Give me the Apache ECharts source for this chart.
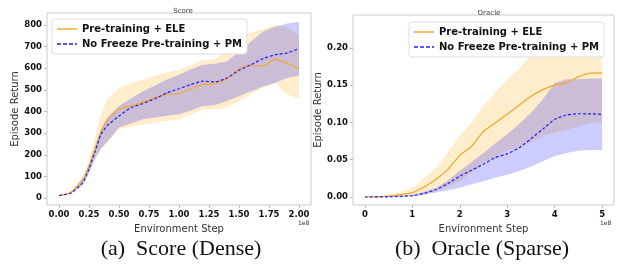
<!DOCTYPE html>
<html>
<head>
<meta charset="utf-8">
<script src="https://cdn.jsdelivr.net/npm/echarts@6/dist/echarts.min.js"></script>
<style>
  html, body { margin: 0; padding: 0; background: #fff; }
  #main { width: 623px; height: 269px; }
</style>
</head>
<body>
<div id="main"></div>
<script>
// Score (Dense), x in units of 1e8 steps
var scoreSteps = [0, 0.1, 0.2, 0.25, 0.3, 0.35, 0.4, 0.5, 0.6, 0.7, 0.8, 0.9, 1.0, 1.1, 1.2, 1.3, 1.4, 1.5, 1.6, 1.7, 1.8, 1.9, 2.0];
var scoreEleMean = [12, 27, 89, 150, 226, 303, 356, 410, 425, 443, 463, 479, 483, 505, 525, 528, 550, 596, 616, 609, 642, 624, 596];
var scoreEleLow = [10, 22, 70, 120, 180, 225, 260, 318, 330, 340, 349, 357, 364, 385, 410, 410, 417, 448, 480, 509, 532, 480, 459];
var scoreEleHigh = [14, 30, 100, 170, 285, 390, 455, 509, 530, 547, 565, 581, 593, 615, 639, 640, 690, 750, 765, 780, 800, 790, 750];
var scorePmMean = [12, 23, 73, 135, 214, 295, 333, 379, 417, 437, 459, 486, 505, 525, 540, 537, 555, 590, 616, 644, 662, 670, 691];
var scorePmLow = [10, 20, 60, 115, 180, 230, 257, 326, 345, 364, 372, 380, 387, 405, 425, 430, 448, 470, 494, 515, 532, 555, 566];
var scorePmHigh = [14, 26, 85, 150, 240, 320, 370, 425, 460, 494, 520, 548, 570, 595, 616, 620, 632, 675, 723, 769, 792, 807, 815];

// Oracle (Sparse)
var oracleSteps = [0, 0.5, 1.0, 1.25, 1.5, 1.75, 2.0, 2.25, 2.5, 2.75, 3.0, 3.25, 3.5, 3.75, 4.0, 4.25, 4.5, 4.75, 5.0];
var oracleEleMean = [0, 0.0013, 0.0058, 0.0134, 0.0237, 0.037, 0.0558, 0.068, 0.088, 0.0996, 0.111, 0.123, 0.135, 0.144, 0.150, 0.153, 0.161, 0.166, 0.1665];
var oracleEleLow = [0, 0.0008, 0.001, 0.004, 0.008, 0.014, 0.021, 0.033, 0.046, 0.055, 0.062, 0.068, 0.073, 0.082, 0.086, 0.090, 0.095, 0.0996, 0.100];
var oracleEleHigh = [0, 0.002, 0.0125, 0.025, 0.039, 0.06, 0.082, 0.10, 0.122, 0.14, 0.158, 0.172, 0.189, 0.202, 0.216, 0.222, 0.227, 0.230, 0.231];
var oraclePmMean = [0, 0.0003, 0.0018, 0.005, 0.010, 0.018, 0.028, 0.036, 0.044, 0.053, 0.058, 0.066, 0.078, 0.091, 0.104, 0.110, 0.1116, 0.1115, 0.1107];
var oraclePmLow = [0, 0.0001, 0.001, 0.003, 0.006, 0.009, 0.0125, 0.017, 0.021, 0.026, 0.030, 0.035, 0.041, 0.048, 0.055, 0.059, 0.062, 0.063, 0.063];
var oraclePmHigh = [0, 0.0006, 0.003, 0.007, 0.0125, 0.022, 0.035, 0.047, 0.059, 0.072, 0.084, 0.098, 0.113, 0.131, 0.153, 0.158, 0.158, 0.159, 0.159];

// tick labels
var scoreXTicks = [0, 0.25, 0.5, 0.75, 1.0, 1.25, 1.5, 1.75, 2.0];
var scoreYTicks = [0, 100, 200, 300, 400, 500, 600, 700, 800];
var oracleXTicks = [0, 1, 2, 3, 4, 5];
var oracleYTicks = [0, 0.05, 0.1, 0.15, 0.2];

var nameEle = 'Pre-training + ELE';
var namePm = 'No Freeze Pre-training + PM';
var orange = '#f5a52a';
var blue = '#1f1ff0';

function pairs(xs, ys) {
  return xs.map(function (x, i) { return [x, ys[i]]; });
}

// shaded band: one polygon drawn from all rows [x, low, high]
function band(idx, xs, lo, hi, color) {
  return {
    type: 'custom', coordinateSystem: 'cartesian2d', xAxisIndex: idx, yAxisIndex: idx,
    data: xs.map(function (x, i) { return [x, lo[i], hi[i]]; }),
    encode: { x: 0, y: [1, 2] },
    silent: true, z: 1, clip: true,
    renderItem: function (params, api) {
      if (params.dataIndexInside !== 0) return;
      var n = params.dataInsideLength;
      var top = [], bottom = [];
      for (var i = 0; i < n; i++) {
        top.push(api.coord([api.value(0, i), api.value(2, i)]));
        bottom.push(api.coord([api.value(0, i), api.value(1, i)]));
      }
      return {
        type: 'polygon',
        shape: { points: top.concat(bottom.reverse()) },
        style: { fill: color, opacity: 0.2 }
      };
    }
  };
}

function meanLine(idx, name, xs, ys, color, dashed) {
  return {
    type: 'line', name: name, xAxisIndex: idx, yAxisIndex: idx,
    data: pairs(xs, ys), symbol: 'none', smooth: 0.2, z: 3,
    lineStyle: { color: color, width: 1.2, type: dashed ? [3, 2] : 'solid' },
    itemStyle: { color: color }
  };
}

var nameFont = { fontFamily: 'DejaVu Sans', fontSize: 10, color: '#333' };

function axisLabel(ticks, digits) {
  return {
    customValues: ticks, margin: 5, fontFamily: 'DejaVu Sans', fontWeight: 'bold',
    fontSize: 8.5, color: '#111',
    formatter: function (v) { return v.toFixed(digits); }
  };
}

function xAxis(idx, min, max, ticks, digits) {
  return {
    type: 'value', gridIndex: idx, min: min, max: max, position: 'bottom',
    name: 'Environment Step', nameLocation: 'middle', nameGap: 19, nameTextStyle: nameFont,
    axisLine: { show: false, onZero: false },
    axisTick: { show: true, inside: false, length: 3, customValues: ticks, lineStyle: { color: '#bbb' } },
    axisLabel: axisLabel(ticks, digits),
    splitLine: { show: false }
  };
}

function yAxis(idx, min, max, ticks, digits, gap) {
  return {
    type: 'value', gridIndex: idx, min: min, max: max, position: 'left',
    name: 'Episode Return', nameLocation: 'middle', nameGap: gap, nameTextStyle: nameFont,
    axisLine: { show: false, onZero: false },
    axisTick: { show: true, inside: false, length: 3, customValues: ticks, lineStyle: { color: '#bbb' } },
    axisLabel: axisLabel(ticks, digits),
    splitLine: { show: false }
  };
}

function legend(left, top) {
  return {
    data: [
      { name: nameEle, icon: 'path://M0,0 L20,0 L20,1.4 L0,1.4 Z' },
      { name: namePm, icon: 'path://M0,0 L4,0 L4,1.4 L0,1.4 Z M6,0 L10,0 L10,1.4 L6,1.4 Z M12,0 L16,0 L16,1.4 L12,1.4 Z M18,0 L20,0 L20,1.4 L18,1.4 Z' }
    ],
    left: left, top: top, orient: 'vertical',
    itemWidth: 20, itemHeight: 2, itemGap: 5,
    padding: [5, 5, 5, 5],
    backgroundColor: '#fff', borderColor: '#ddd', borderWidth: 1, borderRadius: 3,
    textStyle: { fontFamily: 'DejaVu Sans', fontWeight: 'bold', fontSize: 10, color: '#111' },
    selectedMode: false
  };
}

var chart = echarts.init(document.getElementById('main'), null, { renderer: 'canvas' });

var series = [
  band(0, scoreSteps, scoreEleLow, scoreEleHigh, '#ffa500'),
  band(0, scoreSteps, scorePmLow, scorePmHigh, '#0000ff'),
  meanLine(0, nameEle, scoreSteps, scoreEleMean, orange, false),
  meanLine(0, namePm, scoreSteps, scorePmMean, blue, true),
  band(1, oracleSteps, oracleEleLow, oracleEleHigh, '#ffa500'),
  band(1, oracleSteps, oraclePmLow, oraclePmHigh, '#0000ff'),
  meanLine(1, nameEle, oracleSteps, oracleEleMean, orange, false),
  meanLine(1, namePm, oracleSteps, oraclePmMean, blue, true)
];

var option = {
  animation: false,
  backgroundColor: '#fff',
  title: [
    { text: 'Score', left: 178, top: 3, textAlign: 'center', textStyle: { fontFamily: 'DejaVu Sans', fontSize: 7, fontWeight: 'normal', color: '#444' } },
    { text: 'Oracle', left: 484, top: 5, textAlign: 'center', textStyle: { fontFamily: 'DejaVu Sans', fontSize: 7, fontWeight: 'normal', color: '#444' } },
    { text: '(a)  Score (Dense)', left: 176, top: 233, textAlign: 'center', textStyle: { fontFamily: 'Liberation Serif', fontSize: 22, fontWeight: 'normal', color: '#111' } },
    { text: '(b)  Oracle (Sparse)', left: 477, top: 233, textAlign: 'center', textStyle: { fontFamily: 'Liberation Serif', fontSize: 22, fontWeight: 'normal', color: '#111' } }
  ],
  grid: [
    { left: 47, top: 13, width: 264, height: 192, show: true, borderColor: '#ccc', borderWidth: 1, backgroundColor: 'transparent' },
    { left: 353, top: 15, width: 261, height: 190, show: true, borderColor: '#ccc', borderWidth: 1, backgroundColor: 'transparent' }
  ],
  legend: [legend(52, 19), legend(409, 22)],
  xAxis: [
    xAxis(0, -0.1, 2.1, scoreXTicks, 2),
    xAxis(1, -0.25, 5.25, oracleXTicks, 0)
  ],
  yAxis: [
    yAxis(0, -32, 855, scoreYTicks, 0, 23),
    yAxis(1, -0.0107, 0.244, oracleYTicks, 2, 24)
  ],
  graphic: [
    { type: 'text', left: 298, top: 220, style: { text: '1e8', font: '6px DejaVu Sans', fill: '#333' } },
    { type: 'text', left: 600, top: 220, style: { text: '1e8', font: '6px DejaVu Sans', fill: '#333' } }
  ],
  series: series
};

chart.setOption(option);
</script>
</body>
</html>
